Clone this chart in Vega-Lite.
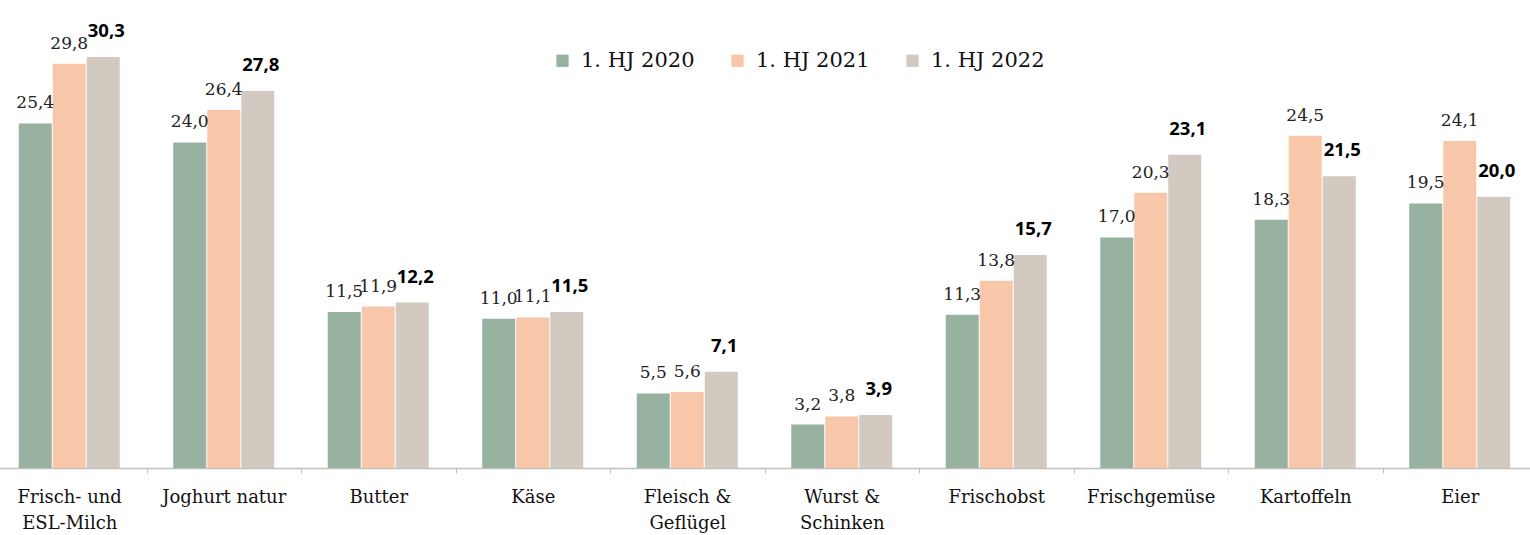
{
  "$schema": "https://vega.github.io/schema/vega-lite/v6.json",
  "width": 1545,
  "height": 468,
  "autosize": {"type": "none"},
  "padding": {"left": -8, "top": 0, "right": 0, "bottom": 67},
  "background": "white",
  "data": {"values": [
    {"cat": "Frisch- und|ESL-Milch", "year": "1. HJ 2020", "value": 25.4},
    {"cat": "Frisch- und|ESL-Milch", "year": "1. HJ 2021", "value": 29.8},
    {"cat": "Frisch- und|ESL-Milch", "year": "1. HJ 2022", "value": 30.3},
    {"cat": "Joghurt natur", "year": "1. HJ 2020", "value": 24.0},
    {"cat": "Joghurt natur", "year": "1. HJ 2021", "value": 26.4},
    {"cat": "Joghurt natur", "year": "1. HJ 2022", "value": 27.8},
    {"cat": "Butter", "year": "1. HJ 2020", "value": 11.5},
    {"cat": "Butter", "year": "1. HJ 2021", "value": 11.9},
    {"cat": "Butter", "year": "1. HJ 2022", "value": 12.2},
    {"cat": "Käse", "year": "1. HJ 2020", "value": 11.0},
    {"cat": "Käse", "year": "1. HJ 2021", "value": 11.1},
    {"cat": "Käse", "year": "1. HJ 2022", "value": 11.5},
    {"cat": "Fleisch &|Geflügel", "year": "1. HJ 2020", "value": 5.5},
    {"cat": "Fleisch &|Geflügel", "year": "1. HJ 2021", "value": 5.6},
    {"cat": "Fleisch &|Geflügel", "year": "1. HJ 2022", "value": 7.1},
    {"cat": "Wurst &|Schinken", "year": "1. HJ 2020", "value": 3.2},
    {"cat": "Wurst &|Schinken", "year": "1. HJ 2021", "value": 3.8},
    {"cat": "Wurst &|Schinken", "year": "1. HJ 2022", "value": 3.9},
    {"cat": "Frischobst", "year": "1. HJ 2020", "value": 11.3},
    {"cat": "Frischobst", "year": "1. HJ 2021", "value": 13.8},
    {"cat": "Frischobst", "year": "1. HJ 2022", "value": 15.7},
    {"cat": "Frischgemüse", "year": "1. HJ 2020", "value": 17.0},
    {"cat": "Frischgemüse", "year": "1. HJ 2021", "value": 20.3},
    {"cat": "Frischgemüse", "year": "1. HJ 2022", "value": 23.1},
    {"cat": "Kartoffeln", "year": "1. HJ 2020", "value": 18.3},
    {"cat": "Kartoffeln", "year": "1. HJ 2021", "value": 24.5},
    {"cat": "Kartoffeln", "year": "1. HJ 2022", "value": 21.5},
    {"cat": "Eier", "year": "1. HJ 2020", "value": 19.5},
    {"cat": "Eier", "year": "1. HJ 2021", "value": 24.1},
    {"cat": "Eier", "year": "1. HJ 2022", "value": 20.0}
  ]},
  "encoding": {
    "x": {
      "field": "cat", "type": "nominal", "sort": null,
      "scale": {"paddingInner": 0, "paddingOuter": 0},
      "axis": {
        "title": null, "labelAngle": 0, "labelExpr": "split(datum.label, '|')",
        "labelFont": "DejaVu Serif", "labelFontSize": 18, "labelColor": "#111",
        "labelLineHeight": 26, "labelPadding": 15, "labelBaseline": "top",
        "tickBand": "extent", "tickColor": "#bfbfbf", "tickSize": 5,
        "domainColor": "#bfbfbf", "domainWidth": 1.5, "grid": false
      }
    },
    "xOffset": {
      "field": "year", "type": "nominal",
      "scale": {"paddingInner": 0.03, "paddingOuter": 0.787}
    },
    "y": {
      "field": "value", "type": "quantitative",
      "scale": {"domain": [0, 34.5], "nice": false},
      "axis": null
    }
  },
  "layer": [
    {
      "mark": {"type": "bar"},
      "encoding": {
        "color": {
          "field": "year", "type": "nominal",
          "scale": {"domain": ["1. HJ 2020", "1. HJ 2021", "1. HJ 2022"], "range": ["#97b2a0", "#f8c6a8", "#d2c9c0"]},
          "legend": {
            "title": null, "orient": "none", "direction": "horizontal",
            "legendX": 560, "legendY": 50, "padding": 0,
            "symbolType": "square", "symbolSize": 150, "symbolStrokeWidth": 0,
            "labelFont": "DejaVu Serif", "labelFontSize": 21, "labelColor": "#111",
            "labelOffset": 8, "columnPadding": 32
          }
        }
      }
    },
    {
      "transform": [{"filter": "datum.year != '1. HJ 2022'"}],
      "mark": {"type": "text", "dy": -20, "baseline": "middle", "fontSize": 17, "font": "DejaVu Serif", "color": "#222"},
      "encoding": {"text": {"field": "value", "type": "quantitative", "format": ".1f"}}
    },
    {
      "transform": [{"filter": "datum.year == '1. HJ 2022'"}],
      "mark": {"type": "text", "dy": -26, "dx": 3, "baseline": "middle", "fontSize": 18.5, "font": "Open Sans", "fontWeight": "bold", "color": "#000"},
      "encoding": {"text": {"field": "value", "type": "quantitative", "format": ".1f"}}
    }
  ],
  "config": {"view": {"stroke": null}, "font": "DejaVu Serif", "locale": {"number": {"decimal": ",", "thousands": ".", "grouping": [3], "currency": ["", " €"]}}}
}
